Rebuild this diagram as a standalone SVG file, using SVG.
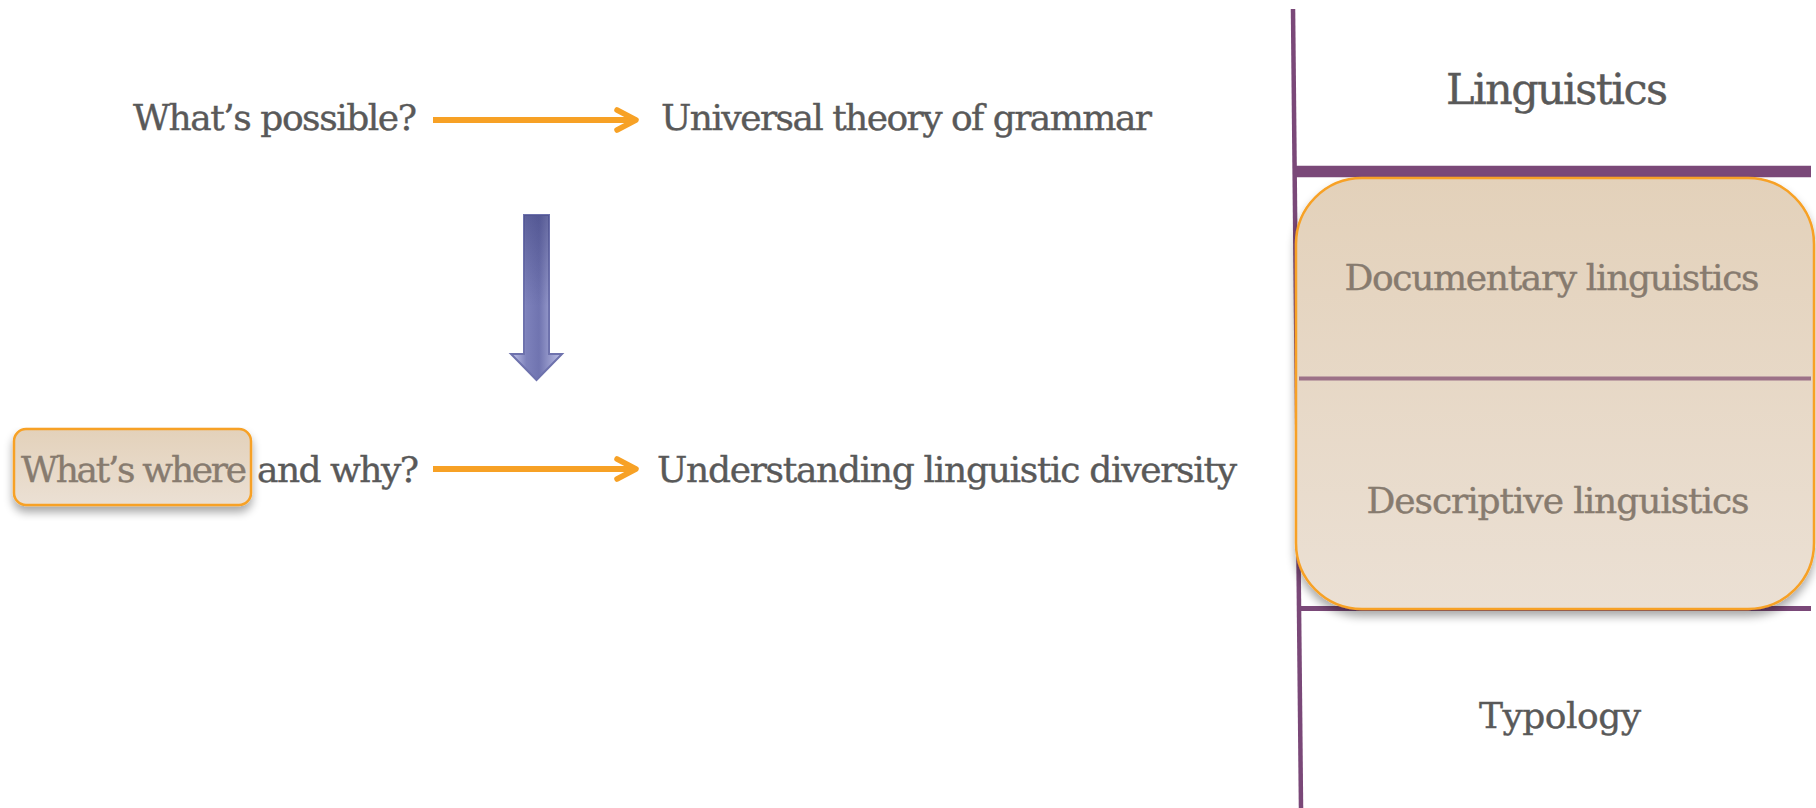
<svg xmlns="http://www.w3.org/2000/svg" width="1816" height="808" viewBox="0 0 1816 808">
<style>
  .t { font-family: "DejaVu Serif", "Liberation Serif", serif; font-size: 36px; fill: #595959; stroke: #595959; stroke-width: 0.4; }
  .tin { font-family: "DejaVu Serif", "Liberation Serif", serif; font-size: 36px; fill: #877b6f; stroke: #877b6f; stroke-width: 0.4; }
  .big { font-size: 43px; }
  .conn { fill: none; stroke: #f7a125; stroke-width: 6; }
  .purple { stroke: #7a4878; fill: none; }
  .box { stroke: #f7a125; stroke-width: 2.5; fill: url(#beige); }
</style>
<defs>
  <linearGradient id="beige" x1="0" y1="0" x2="0" y2="1">
    <stop offset="0" stop-color="#e3d1ba"/>
    <stop offset="1" stop-color="#ebe0d4"/>
  </linearGradient>
  <linearGradient id="blueH" x1="0" y1="0" x2="1" y2="0">
    <stop offset="0" stop-color="#c4c7ec"/>
    <stop offset="0.3" stop-color="#7d81bb"/>
    <stop offset="0.55" stop-color="#7074b0"/>
    <stop offset="1" stop-color="#bfc2e8"/>
  </linearGradient>
  <linearGradient id="blueV" x1="0" y1="0" x2="0" y2="1">
    <stop offset="0" stop-color="#2a2e6a" stop-opacity="0.4"/>
    <stop offset="0.55" stop-color="#2a2e6a" stop-opacity="0"/>
  </linearGradient>
  <filter id="shadow" x="-10%" y="-10%" width="120%" height="130%">
    <feGaussianBlur in="SourceAlpha" stdDeviation="5"/>
    <feOffset dx="0" dy="6" result="b"/>
    <feComponentTransfer><feFuncA type="linear" slope="0.35"/></feComponentTransfer>
    <feMerge><feMergeNode/><feMergeNode in="SourceGraphic"/></feMerge>
  </filter>
  <marker id="chev" markerUnits="userSpaceOnUse" markerWidth="40" markerHeight="40" viewBox="-30 -20 40 40" refX="0" refY="0" orient="auto" overflow="visible">
    <path d="M-19,-10 L0,0 L-19,10" fill="none" stroke="#f7a125" stroke-width="5.5" stroke-linecap="round" stroke-linejoin="round"/>
  </marker>
</defs>

<rect width="1816" height="808" fill="#ffffff"/>

<g id="table-lines">
  <line class="purple" x1="1293" y1="9" x2="1301" y2="808" stroke-width="4.5"/>
  <line class="purple" x1="1296" y1="171.5" x2="1811" y2="171.5" stroke-width="11.5"/>
  <line class="purple" x1="1299" y1="608.5" x2="1811" y2="608.5" stroke-width="5"/>
</g>

<g id="linguistics">
  <text class="t big" x="1557" y="104" text-anchor="middle" textLength="222">Linguistics</text>
</g>

<g id="doc-desc-box">
  <rect class="box" x="1296" y="178" width="518" height="431" rx="66" ry="66" filter="url(#shadow)"/>
  <line x1="1299" y1="378.5" x2="1811" y2="378.5" stroke="#9c7187" stroke-width="4"/>
</g>

<g id="documentary">
  <text class="tin" x="1552" y="290" text-anchor="middle" textLength="415">Documentary linguistics</text>
</g>
<g id="descriptive">
  <text class="tin" x="1558" y="513" text-anchor="middle" textLength="383">Descriptive linguistics</text>
</g>
<g id="typology">
  <text class="t" x="1560" y="728" text-anchor="middle" textLength="162">Typology</text>
</g>

<g id="whats-possible">
  <text class="t" x="133" y="130" textLength="284">What’s possible?</text>
</g>
<g id="universal-theory">
  <text class="t" x="661" y="130" textLength="491">Universal theory of grammar</text>
</g>

<g id="whats-where">
  <rect class="box" x="14" y="429" width="237" height="76" rx="12" ry="12" filter="url(#shadow)"/>
  <text class="tin" x="21" y="482" textLength="226">What’s where</text>
  <text class="t" x="257" y="482" textLength="162">and why?</text>
</g>
<g id="understanding">
  <text class="t" x="657" y="482" textLength="580">Understanding linguistic diversity</text>
</g>

<g id="connectors">
  <path class="conn" d="M433,120 H636" marker-end="url(#chev)"/>
  <path class="conn" d="M433,469 H636" marker-end="url(#chev)"/>
  <g id="down-arrow">
    <path d="M524,215 H549 V354 H562 L536.5,380 L511,354 H524 Z" fill="url(#blueH)" stroke="#6e72ad" stroke-width="2" stroke-linejoin="miter"/>
    <path d="M524,215 H549 V354 H562 L536.5,380 L511,354 H524 Z" fill="url(#blueV)" stroke="none"/>
  </g>
</g>
</svg>
